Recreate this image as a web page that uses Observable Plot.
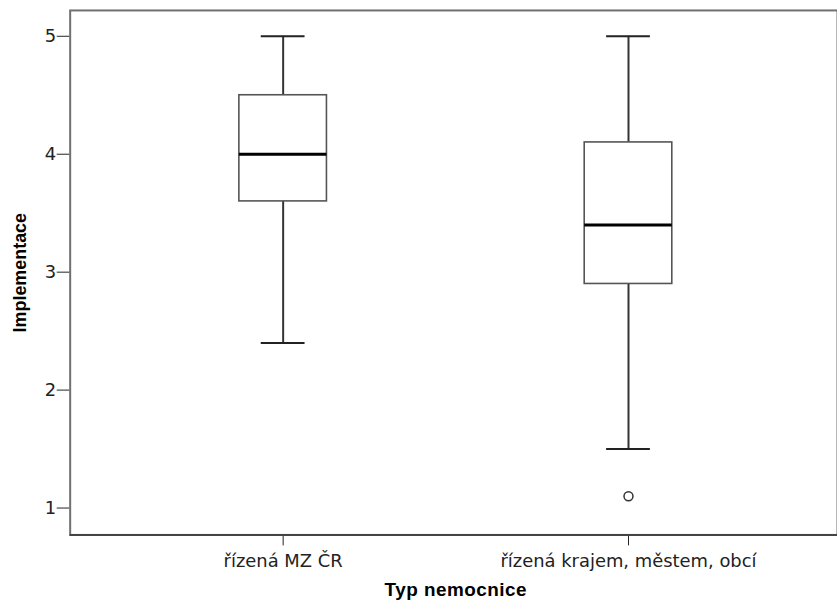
<!DOCTYPE html>
<html>
<head>
<meta charset="utf-8">
<script src="https://cdn.jsdelivr.net/npm/d3@7"></script>
<script src="https://cdn.jsdelivr.net/npm/@observablehq/plot@0.6"></script>
<style>
  html, body { margin: 0; padding: 0; background: white; overflow: hidden; }
</style>
</head>
<body>
<div id="chart"></div>
<script>
const categories = ["řízená MZ ČR", "řízená krajem, městem, obcí"];
const whiskerLow = [2.4, 1.5];
const q1 = [3.6, 2.9];
const median = [4.0, 3.4];
const q3 = [4.5, 4.1];
const whiskerHigh = [5, 5];
const outlierCategory = ["řízená krajem, městem, obcí"];
const outlierValue = [1.1];
const yTicks = [1, 2, 3, 4, 5];
const yDomain = [0.772, 5.219];
const xTitle = "Typ nemocnice";
const yTitle = "Implementace";

const stats = categories.map((c, i) => ({
  cat: c, lo: whiskerLow[i], q1: q1[i], med: median[i], q3: q3[i], hi: whiskerHigh[i]
}));
const outliers = outlierCategory.map((c, i) => ({cat: c, v: outlierValue[i]}));

const chart = Plot.plot({
  width: 841,
  height: 606,
  marginLeft: 70,
  marginRight: 0,
  marginTop: 10,
  marginBottom: 69,
  style: {fontFamily: "DejaVu Sans", fontSize: "18px", color: "#222", background: "white"},
  x: {type: "band", domain: categories, range: [239, 675], paddingInner: 0.747, paddingOuter: 0, align: 0.5,
      tickSize: 11, tickPadding: 8, label: null},
  y: {domain: yDomain, ticks: yTicks, tickFormat: d3.format("d"), tickSize: 13, tickPadding: 1, label: null},
  marks: [
    Plot.frame({stroke: "#707070", strokeWidth: 2}),
    Plot.ruleY([yDomain[0]], {stroke: "#444", strokeWidth: 2}),
    Plot.ruleX(stats, {x: "cat", y1: "q3", y2: "hi", stroke: "#333", strokeWidth: 2}),
    Plot.ruleX(stats, {x: "cat", y1: "lo", y2: "q1", stroke: "#333", strokeWidth: 2}),
    Plot.tickY(stats, {x: "cat", y: "hi", insetLeft: 22, insetRight: 22, stroke: "#222", strokeWidth: 2}),
    Plot.tickY(stats, {x: "cat", y: "lo", insetLeft: 22, insetRight: 22, stroke: "#222", strokeWidth: 2}),
    Plot.barY(stats, {x: "cat", y1: "q1", y2: "q3", fill: "white", stroke: "#555", strokeWidth: 1.6}),
    Plot.tickY(stats, {x: "cat", y: "med", stroke: "#000", strokeWidth: 3}),
    Plot.dot(outliers, {x: "cat", y: "v", r: 4.5, stroke: "#333", strokeWidth: 1.5, fill: "white"}),
    Plot.text([yTitle], {frameAnchor: "left", textAnchor: "middle", lineAnchor: "middle", rotate: -90, dx: -50,
      fontFamily: "Liberation Sans", fontSize: 18, fontWeight: "bold", fill: "#000"}),
    Plot.text([xTitle], {frameAnchor: "bottom", textAnchor: "middle", lineAnchor: "middle", dx: 2, dy: 55,
      fontFamily: "Liberation Sans", fontSize: 19, fontWeight: "bold", fill: "#000"})
  ]
});
d3.select(chart).selectAll("text").filter(function() { return this.textContent === xTitle; })
  .attr("letter-spacing", "0.5px");
document.getElementById("chart").appendChild(chart);
</script>
</body>
</html>
